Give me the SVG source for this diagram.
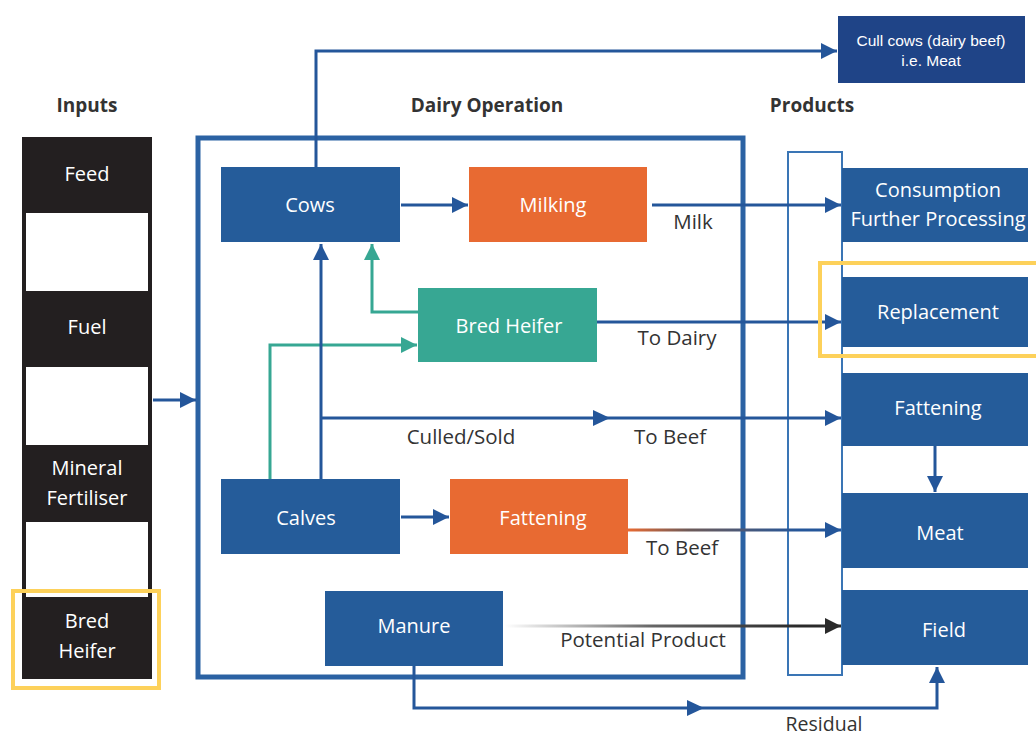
<svg xmlns="http://www.w3.org/2000/svg" width="1036" height="735" viewBox="0 0 1036 735">
<style>
.hdr{font-family:"Open Sans","Liberation Sans",sans-serif;font-weight:bold;font-size:19px;fill:#333;text-anchor:middle}
.nt{font-family:"Open Sans","Liberation Sans",sans-serif;font-size:20px;fill:#fff;text-anchor:middle}
.lbl{font-family:"Open Sans","Liberation Sans",sans-serif;font-size:20.5px;fill:#333;text-anchor:middle}
.small{font-family:"Liberation Sans",Arial,sans-serif;font-size:15.5px;fill:#fff;text-anchor:middle}
.blue{fill:#255c9a}
.orange{fill:#e86a32}
.teal{fill:#37a793}
.ln{fill:none;stroke:#24569a;stroke-width:3}
.tl{fill:none;stroke:#37a793;stroke-width:3}
.yel{fill:none;stroke:#fdd15a;stroke-width:4}
</style>
<defs>
<marker id="ab" markerUnits="userSpaceOnUse" markerWidth="18" markerHeight="18" refX="16" refY="8" orient="auto"><path d="M0,0 L16,8 L0,16 z" fill="#24569a"/></marker>
<marker id="at" markerUnits="userSpaceOnUse" markerWidth="18" markerHeight="18" refX="16" refY="8" orient="auto"><path d="M0,0 L16,8 L0,16 z" fill="#37a793"/></marker>
<marker id="ak" markerUnits="userSpaceOnUse" markerWidth="18" markerHeight="18" refX="16" refY="8" orient="auto"><path d="M0,0 L16,8 L0,16 z" fill="#2a2a2a"/></marker>
<linearGradient id="gpot" gradientUnits="userSpaceOnUse" x1="505" y1="0" x2="800" y2="0"><stop offset="0" stop-color="#fff"/><stop offset="0.5" stop-color="#666"/><stop offset="1" stop-color="#2a2a2a"/></linearGradient>
<linearGradient id="gfat" gradientUnits="userSpaceOnUse" x1="628" y1="0" x2="800" y2="0"><stop offset="0" stop-color="#e86a32"/><stop offset="0.35" stop-color="#6e5a58"/><stop offset="1" stop-color="#24569a"/></linearGradient>
</defs>

<!-- headers -->
<text class="hdr" x="87" y="112">Inputs</text>
<text class="hdr" x="487" y="112">Dairy Operation</text>
<text class="hdr" x="812" y="112">Products</text>

<!-- inputs column -->
<g id="inputs">
<rect x="22" y="137" width="130" height="542" fill="#231f20"/>
<rect x="26" y="213" width="122" height="78" fill="#fff"/>
<rect x="26" y="367" width="122" height="78" fill="#fff"/>
<rect x="26" y="522" width="122" height="75" fill="#fff"/>
<text class="nt" x="87" y="181">Feed</text>
<text class="nt" x="87" y="334">Fuel</text>
<text class="nt" x="87" y="475">Mineral</text>
<text class="nt" x="87" y="505">Fertiliser</text>
<text class="nt" x="87" y="628">Bred</text>
<text class="nt" x="87" y="658">Heifer</text>
<rect class="yel" x="13" y="591" width="146" height="97"/>
</g>

<!-- containers -->
<rect id="dairy-box" x="198" y="138" width="545" height="539" fill="none" stroke="#2b62a3" stroke-width="5"/>
<rect id="products-box" x="788" y="152" width="54" height="523" fill="none" stroke="#3a75b5" stroke-width="2"/>

<!-- connectors -->
<g id="connectors">
<path class="ln" d="M316,167 V51 H837" marker-end="url(#ab)"/>
<path class="ln" d="M401,205 H468" marker-end="url(#ab)"/>
<path class="ln" d="M652,205 H841" marker-end="url(#ab)"/>
<path class="ln" d="M597,322 H841" marker-end="url(#ab)"/>
<path class="tl" d="M418,312 H372 V244" marker-end="url(#at)"/>
<path class="tl" d="M270,479 V345 H417" marker-end="url(#at)"/>
<path class="ln" d="M321,479 V244" marker-end="url(#ab)"/>
<path class="ln" d="M321,418 H841" marker-end="url(#ab)"/>
<polygon points="593,410 610,418 593,426" fill="#24569a"/>
<path class="ln" d="M401,517 H449" marker-end="url(#ab)"/>
<path d="M628,530 H841" fill="none" stroke="url(#gfat)" stroke-width="3" marker-end="url(#ab)"/>
<path d="M505,626 H841" fill="none" stroke="url(#gpot)" stroke-width="3" marker-end="url(#ak)"/>
<path class="ln" d="M414,666 V708 H937 V667" marker-end="url(#ab)"/>
<polygon points="687,700 704,708 687,716" fill="#24569a"/>
<path class="ln" d="M153,400 H196" marker-end="url(#ab)"/>
<path class="ln" d="M935,446 V492" marker-end="url(#ab)"/>
<text class="lbl" x="693" y="229">Milk</text>
<text class="lbl" x="677" y="345">To Dairy</text>
<text class="lbl" x="461" y="444">Culled/Sold</text>
<text class="lbl" x="670" y="444">To Beef</text>
<text class="lbl" x="682" y="555">To Beef</text>
<text class="lbl" x="643" y="647">Potential Product</text>
<text class="lbl" x="824" y="731" style="font-size:19.5px">Residual</text>
</g>

<!-- dairy nodes -->
<g id="cows"><rect class="blue" x="221" y="167" width="179" height="75"/><text class="nt" x="310" y="212">Cows</text></g>
<g id="milking"><rect class="orange" x="469" y="167" width="178" height="75"/><text class="nt" x="553" y="212">Milking</text></g>
<g id="bred-heifer"><rect class="teal" x="418" y="288" width="179" height="74"/><text class="nt" x="509" y="333">Bred Heifer</text></g>
<g id="calves"><rect class="blue" x="221" y="479" width="179" height="75"/><text class="nt" x="306" y="525">Calves</text></g>
<g id="fattening-op"><rect class="orange" x="450" y="479" width="178" height="75"/><text class="nt" x="543" y="525">Fattening</text></g>
<g id="manure"><rect class="blue" x="325" y="591" width="178" height="75"/><text class="nt" x="414" y="633">Manure</text></g>

<!-- products -->
<g id="cull-cows"><rect x="838" y="16" width="187" height="67" fill="#1f4487"/><text class="small" x="931" y="46">Cull cows (dairy beef)</text><text class="small" x="931" y="66">i.e. Meat</text></g>
<g id="consumption"><rect class="blue" x="842" y="168" width="186" height="74"/><text class="nt" x="938" y="197">Consumption</text><text class="nt" x="938" y="226">Further Processing</text></g>
<g id="replacement"><rect class="blue" x="842" y="277" width="186" height="70"/><text class="nt" x="938" y="319">Replacement</text><rect class="yel" x="820" y="263" width="220" height="93"/></g>
<g id="fattening-prod"><rect class="blue" x="842" y="373" width="186" height="73"/><text class="nt" x="938" y="415">Fattening</text></g>
<g id="meat"><rect class="blue" x="842" y="493" width="186" height="75"/><text class="nt" x="940" y="540">Meat</text></g>
<g id="field"><rect class="blue" x="842" y="590" width="186" height="75"/><text class="nt" x="944" y="637">Field</text></g>
</svg>
